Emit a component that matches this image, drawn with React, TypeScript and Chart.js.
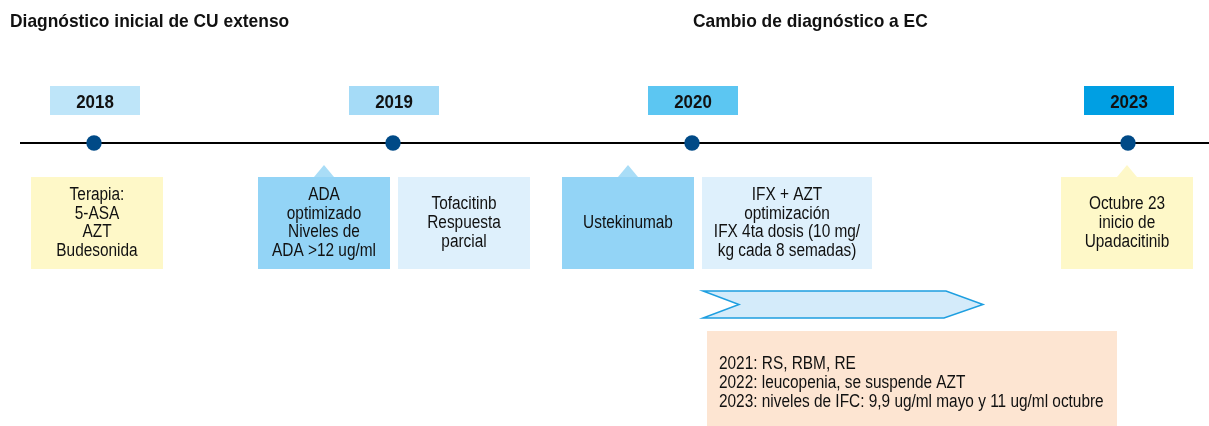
import React, { useEffect, useRef } from 'react';
import { Chart, registerables } from 'chart.js';

Chart.register(...registerables);

// ---- data ----
const headingTexts = ['Diagnóstico inicial de CU extenso', 'Cambio de diagnóstico a EC'];
const headingPos = [10, 693];

const years = ['2018', '2019', '2020', '2023'];
const yearPos = [94, 393, 692, 1128];

const eventTexts: string[][] = [
  ['Terapia:', '5-ASA', 'AZT', 'Budesonida'],
  ['ADA', 'optimizado', 'Niveles de', 'ADA >12 ug/ml'],
  ['Tofacitinb', 'Respuesta', 'parcial'],
  ['Ustekinumab'],
  ['IFX + AZT', 'optimización', 'IFX 4ta dosis (10 mg/', 'kg cada 8 semadas)'],
  ['Octubre 23', 'inicio de', 'Upadacitinib'],
];
const eventCenters = [97, 324, 464, 628, 787, 1127];
const eventSpans = [132, 132, 132, 132, 170, 132];
const eventPointer = [false, true, false, true, false, true];

const phaseSpan = [703, 983];
const noteLines = [
  '2021: RS, RBM, RE',
  '2022: leucopenia, se suspende AZT',
  '2023: niveles de IFC: 9,9 ug/ml mayo y 11 ug/ml octubre',
];
const noteSpan = [707, 1117];

// ---- styles ----
const yearColors = ['#BEE5F9', '#A5DBF7', '#5CC6F2', '#009FE3'];
const eventColors = ['#FEF8C8', '#93D4F6', '#DEF0FC', '#93D4F6', '#DEF0FC', '#FEF8C8'];
const pointerColors = ['#FEF8C8', '#A9DDF7', '#DEF0FC', '#A9DDF7', '#DEF0FC', '#FEF8C8'];
const FONT = '"Liberation Sans", Arial, sans-serif';
const SX = 0.855;

function txt(ctx: CanvasRenderingContext2D, s: string, x: number, y: number, size: number, bold: boolean, align: CanvasTextAlign, sx: number) {
  ctx.save();
  ctx.font = `${bold ? 'bold ' : ''}${size}px ${FONT}`;
  ctx.textBaseline = 'middle';
  ctx.textAlign = align;
  ctx.fillStyle = '#111';
  ctx.translate(x, y);
  ctx.scale(sx, 1);
  ctx.fillText(s, 0, 0);
  ctx.restore();
}

const timelinePlugin = {
  id: 'timelineDecor',
  beforeDatasetsDraw(chart: any) {
    const ctx: CanvasRenderingContext2D = chart.ctx;
    const xs = chart.scales.x;
    const ys = chart.scales.y;
    const X = (v: number) => xs.getPixelForValue(v);
    const Y = (v: number) => ys.getPixelForValue(v);

    // headings
    headingTexts.forEach((h, i) => txt(ctx, h, X(headingPos[i]), Y(22), 19, true, 'left', 0.915));

    // year labels
    years.forEach((yr, i) => {
      const cx = yearPos[i];
      ctx.fillStyle = yearColors[i];
      ctx.fillRect(X(cx - 44), Y(86), X(cx + 46) - X(cx - 44), Y(115) - Y(86));
      txt(ctx, yr, X(cx + 1), Y(102.5), 19, true, 'center', 0.89);
    });

    // event boxes
    eventTexts.forEach((lines, i) => {
      const c = eventCenters[i];
      const w = eventSpans[i];
      const l = X(c - w / 2), r = X(c + w / 2);
      ctx.fillStyle = eventColors[i];
      ctx.fillRect(l, Y(177), r - l, Y(269) - Y(177));
      if (eventPointer[i]) {
        ctx.fillStyle = pointerColors[i];
        ctx.beginPath();
        ctx.moveTo(X(c - 10), Y(177));
        ctx.lineTo(X(c), Y(165));
        ctx.lineTo(X(c + 10), Y(177));
        ctx.closePath();
        ctx.fill();
      }
      const lh = 18.7;
      const start = 223 - ((lines.length - 1) * lh) / 2;
      lines.forEach((s, k) => txt(ctx, s, X(c), Y(start + k * lh), 18, false, 'center', SX));
    });

    // phase chevron
    const a = phaseSpan[0], b = phaseSpan[1];
    ctx.beginPath();
    ctx.moveTo(X(a), Y(291));
    ctx.lineTo(X(b - 37), Y(291));
    ctx.lineTo(X(b), Y(304.5));
    ctx.lineTo(X(b - 39), Y(318));
    ctx.lineTo(X(a), Y(318));
    ctx.lineTo(X(a + 36), Y(304.5));
    ctx.closePath();
    ctx.fillStyle = '#D4EBFA';
    ctx.fill();
    ctx.strokeStyle = '#1E9FE0';
    ctx.lineWidth = 1.5;
    ctx.stroke();

    // notes box
    ctx.fillStyle = '#FDE5D2';
    ctx.fillRect(X(noteSpan[0]), Y(331), X(noteSpan[1]) - X(noteSpan[0]), Y(426) - Y(331));
    noteLines.forEach((s, k) => txt(ctx, s, X(noteSpan[0] + 12), Y(364 + k * 19), 18, false, 'left', SX));
  },
};

export default function App() {
  const ref = useRef<HTMLCanvasElement | null>(null);
  useEffect(() => {
    document.body.style.margin = '0';
    if (!ref.current) return;
    const chart = new Chart(ref.current, {
      type: 'scatter',
      data: {
        datasets: [
          {
            type: 'scatter',
            data: yearPos.map((x) => ({ x, y: 143 })),
            pointRadius: 7.7,
            pointHoverRadius: 7.7,
            backgroundColor: '#004A87',
            borderWidth: 0,
          },
          {
            type: 'line',
            data: [{ x: 20, y: 143 }, { x: 1209, y: 143 }],
            borderColor: '#000',
            borderWidth: 2,
            pointRadius: 0,
            showLine: true,
          },
        ] as any,
      },
      options: {
        animation: false,
        responsive: false,
        devicePixelRatio: 1,
        layout: { padding: 0, autoPadding: false },
        events: [],
        plugins: { legend: { display: false }, tooltip: { enabled: false } },
        scales: {
          x: { type: 'linear', min: 0, max: 1209, display: false },
          y: { type: 'linear', min: 0, max: 426, reverse: true, display: false },
        },
      },
      plugins: [timelinePlugin],
    });
    return () => chart.destroy();
  }, []);
  return (
    <div style={{ position: 'absolute', left: 0, top: 0, width: 1209, height: 426, background: '#fff' }}>
      <canvas ref={ref} width={1209} height={426} style={{ display: 'block' }} />
    </div>
  );
}
